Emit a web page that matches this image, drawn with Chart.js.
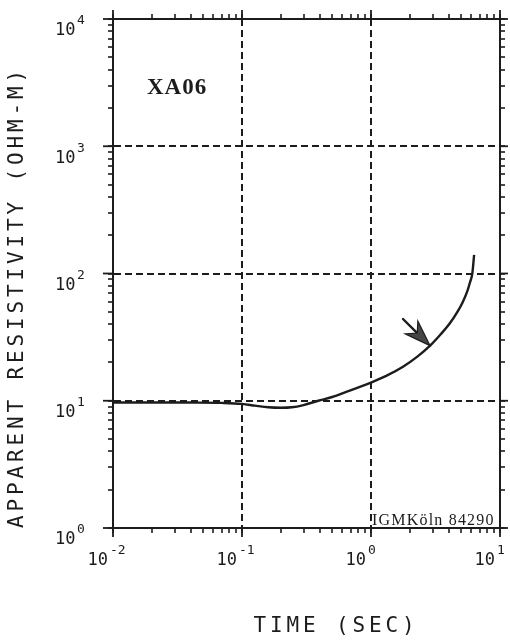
<!DOCTYPE html>
<html><head><meta charset="utf-8">
<script src="https://cdn.jsdelivr.net/npm/chart.js@4.4.0/dist/chart.umd.min.js"></script>
<style>html,body{margin:0;padding:0;background:#fff}canvas{display:block}</style>
</head><body>
<canvas id="c" width="510" height="641"></canvas>
<script>
// ---- data ----
const timeSec     = [0.01, 0.02, 0.04, 0.07, 0.1, 0.126, 0.16, 0.2, 0.243, 0.3, 0.39, 0.5, 0.65, 1.0, 1.3, 1.77, 2.3, 2.87, 3.5, 4.1, 4.7, 5.16, 5.6, 5.85, 6.1, 6.3];
const resistivity = [9.7, 9.7, 9.68, 9.62, 9.45, 9.15, 8.88, 8.8, 8.88, 9.25, 10.0, 10.7, 11.8, 13.9, 15.6, 18.5, 22.3, 27.1, 33.6, 40.8, 50.4, 60.1, 73.3, 85.1, 100, 140];
const xDecades = [0.01, 0.1, 1, 10];
const yDecades = [1, 10, 100, 1000, 10000];
const minorSteps = [1, 2, 3, 4, 5, 6, 7, 8, 9];
const xTickLabels = [['10', '-2'], ['10', '-1'], ['10', '0'], ['10', '1']];
const yTickLabels = [['10', '0'], ['10', '1'], ['10', '2'], ['10', '3'], ['10', '4']];
const stationLabel = 'XA06';
const creditLabel = 'IGMKöln 84290';
const xTitle = 'TIME (SEC)';
const yTitle = 'APPARENT RESISTIVITY (OHM-M)';
const arrowFrom = {x: 1.77, y: 43.9};
const arrowTo = {x: 2.87, y: 27.1};

const INK = '#1c1c1c';
const MONO = '"DejaVu Sans Mono", monospace';

function buildTicks(decades) {
  const out = [];
  for (let i = 0; i < decades.length - 1; i++) {
    for (const m of minorSteps) out.push({value: +(decades[i] * m).toPrecision(6)});
  }
  out.push({value: decades[decades.length - 1]});
  return out;
}

function axis(pos, decades, main, size) {
  return {
    type: 'logarithmic', position: pos,
    min: decades[0], max: decades[decades.length - 1],
    afterBuildTicks: s => { s.ticks = buildTicks(decades); },
    afterFit: s => { if (pos === 'top' || pos === 'bottom') s.height = size; else s.width = size; },
    ticks: {display: false, autoSkip: false},
    grid: {
      display: true,
      drawOnChartArea: main,
      drawTicks: true,
      tickLength: 5,
      tickWidth: 1.6,
      tickColor: INK,
      lineWidth: 2,
      color: c => (c.tick && decades.includes(c.tick.value)) ? INK : 'rgba(0,0,0,0)'
    },
    border: {display: true, color: INK, width: 2, dash: [7, 4]}
  };
}

function drawSpaced(ctx, text, cx, cy, pitch, font) {
  ctx.font = font;
  const adv = ctx.measureText('M').width;
  const spacing = pitch - adv;
  try { ctx.letterSpacing = spacing + 'px'; } catch (e) {}
  const total = text.length * pitch - spacing;
  ctx.textAlign = 'left';
  ctx.textBaseline = 'middle';
  ctx.fillText(text, cx - total / 2, cy);
  try { ctx.letterSpacing = '0px'; } catch (e) {}
}

const decor = {
  id: 'decor',
  afterDatasetsDraw(chart) {
    const {ctx, scales: {x, y}} = chart;
    // arrow
    const x1 = x.getPixelForValue(arrowFrom.x), y1 = y.getPixelForValue(arrowFrom.y);
    const x2 = x.getPixelForValue(arrowTo.x), y2 = y.getPixelForValue(arrowTo.y);
    const dx = x2 - x1, dy = y2 - y1, L = Math.hypot(dx, dy);
    const ux = dx / L, uy = dy / L, px = -uy, py = ux;
    const head = 26, half = 9, notch = 18;
    ctx.save();
    ctx.strokeStyle = INK; ctx.lineWidth = 2.4; ctx.lineCap = 'round';
    ctx.beginPath(); ctx.moveTo(x1, y1); ctx.lineTo(x2 - ux * notch, y2 - uy * notch); ctx.stroke();
    ctx.beginPath();
    ctx.moveTo(x2, y2);
    ctx.lineTo(x2 - ux * head + px * half, y2 - uy * head + py * half);
    ctx.lineTo(x2 - ux * notch, y2 - uy * notch);
    ctx.lineTo(x2 - ux * head - px * half, y2 - uy * head - py * half);
    ctx.closePath();
    ctx.fillStyle = '#444644'; ctx.fill();
    ctx.lineWidth = 1.2; ctx.stroke();
    ctx.restore();
  },
  afterDraw(chart) {
    const {ctx, chartArea: a, scales: {x, y}} = chart;
    ctx.save();
    ctx.strokeStyle = INK; ctx.fillStyle = INK; ctx.lineWidth = 1.8;
    const seg = (ax, ay, bx, by) => { ctx.beginPath(); ctx.moveTo(ax, ay); ctx.lineTo(bx, by); ctx.stroke(); };
    // longer major tick marks
    xDecades.forEach(v => { const p = x.getPixelForValue(v); seg(p, a.bottom, p, a.bottom + 9); seg(p, a.top, p, a.top - 9); });
    yDecades.forEach(v => { const p = y.getPixelForValue(v); seg(a.left - 10, p, a.left, p); seg(a.right, p, a.right + 8, p); });

    // tick labels (10 with exponent)
    ctx.textBaseline = 'middle';
    xDecades.forEach((v, i) => {
      const p = x.getPixelForValue(v);
      ctx.font = '17px ' + MONO; ctx.textAlign = 'right';
      ctx.fillText(xTickLabels[i][0], p - 5, 561);
      ctx.font = '13px ' + MONO; ctx.textAlign = 'left';
      ctx.fillText(xTickLabels[i][1], p - 3, 551);
    });
    yDecades.forEach((v, i) => {
      const p = y.getPixelForValue(v);
      ctx.font = '17px ' + MONO; ctx.textAlign = 'left';
      ctx.fillText(yTickLabels[i][0], 55, p + 12);
      ctx.font = '13px ' + MONO;
      ctx.fillText(yTickLabels[i][1], 77, p + 2);
    });

    // axis titles
    drawSpaced(ctx, xTitle, 334, 627, 16.5, '21px ' + MONO);
    ctx.save();
    ctx.translate(18, 299);
    ctx.rotate(-Math.PI / 2);
    drawSpaced(ctx, yTitle, 0, 0, 16.5, '21px ' + MONO);
    ctx.restore();

    // station label and credit
    ctx.font = 'bold 23px "Liberation Serif", serif';
    ctx.textAlign = 'left'; ctx.textBaseline = 'middle';
    try { ctx.letterSpacing = '1px'; } catch (e) {}
    ctx.fillText(stationLabel, 147, 88);
    ctx.font = '16px "Liberation Serif", serif';
    try { ctx.letterSpacing = '1.2px'; } catch (e) {}
    ctx.textBaseline = 'alphabetic';
    ctx.fillText(creditLabel, 372, 525);
    try { ctx.letterSpacing = '0px'; } catch (e) {}
    ctx.restore();
  }
};

new Chart(document.getElementById('c'), {
  type: 'line',
  data: {
    datasets: [{
      data: timeSec.map((t, i) => ({x: t, y: resistivity[i]})),
      borderColor: INK, borderWidth: 2.4, pointRadius: 0,
      cubicInterpolationMode: 'monotone', fill: false
    }]
  },
  options: {
    responsive: false, animation: false, devicePixelRatio: 1,
    layout: {padding: {top: 19, right: 10, bottom: 0, left: 0}},
    plugins: {legend: {display: false}, tooltip: {enabled: false}, title: {display: false}},
    scales: {
      x: axis('bottom', xDecades, true, 113),
      y: axis('left', yDecades, true, 113),
      x2: axis('top', xDecades, false, 0),
      y2: axis('right', yDecades, false, 0)
    }
  },
  plugins: [decor]
});
</script>
</body></html>
